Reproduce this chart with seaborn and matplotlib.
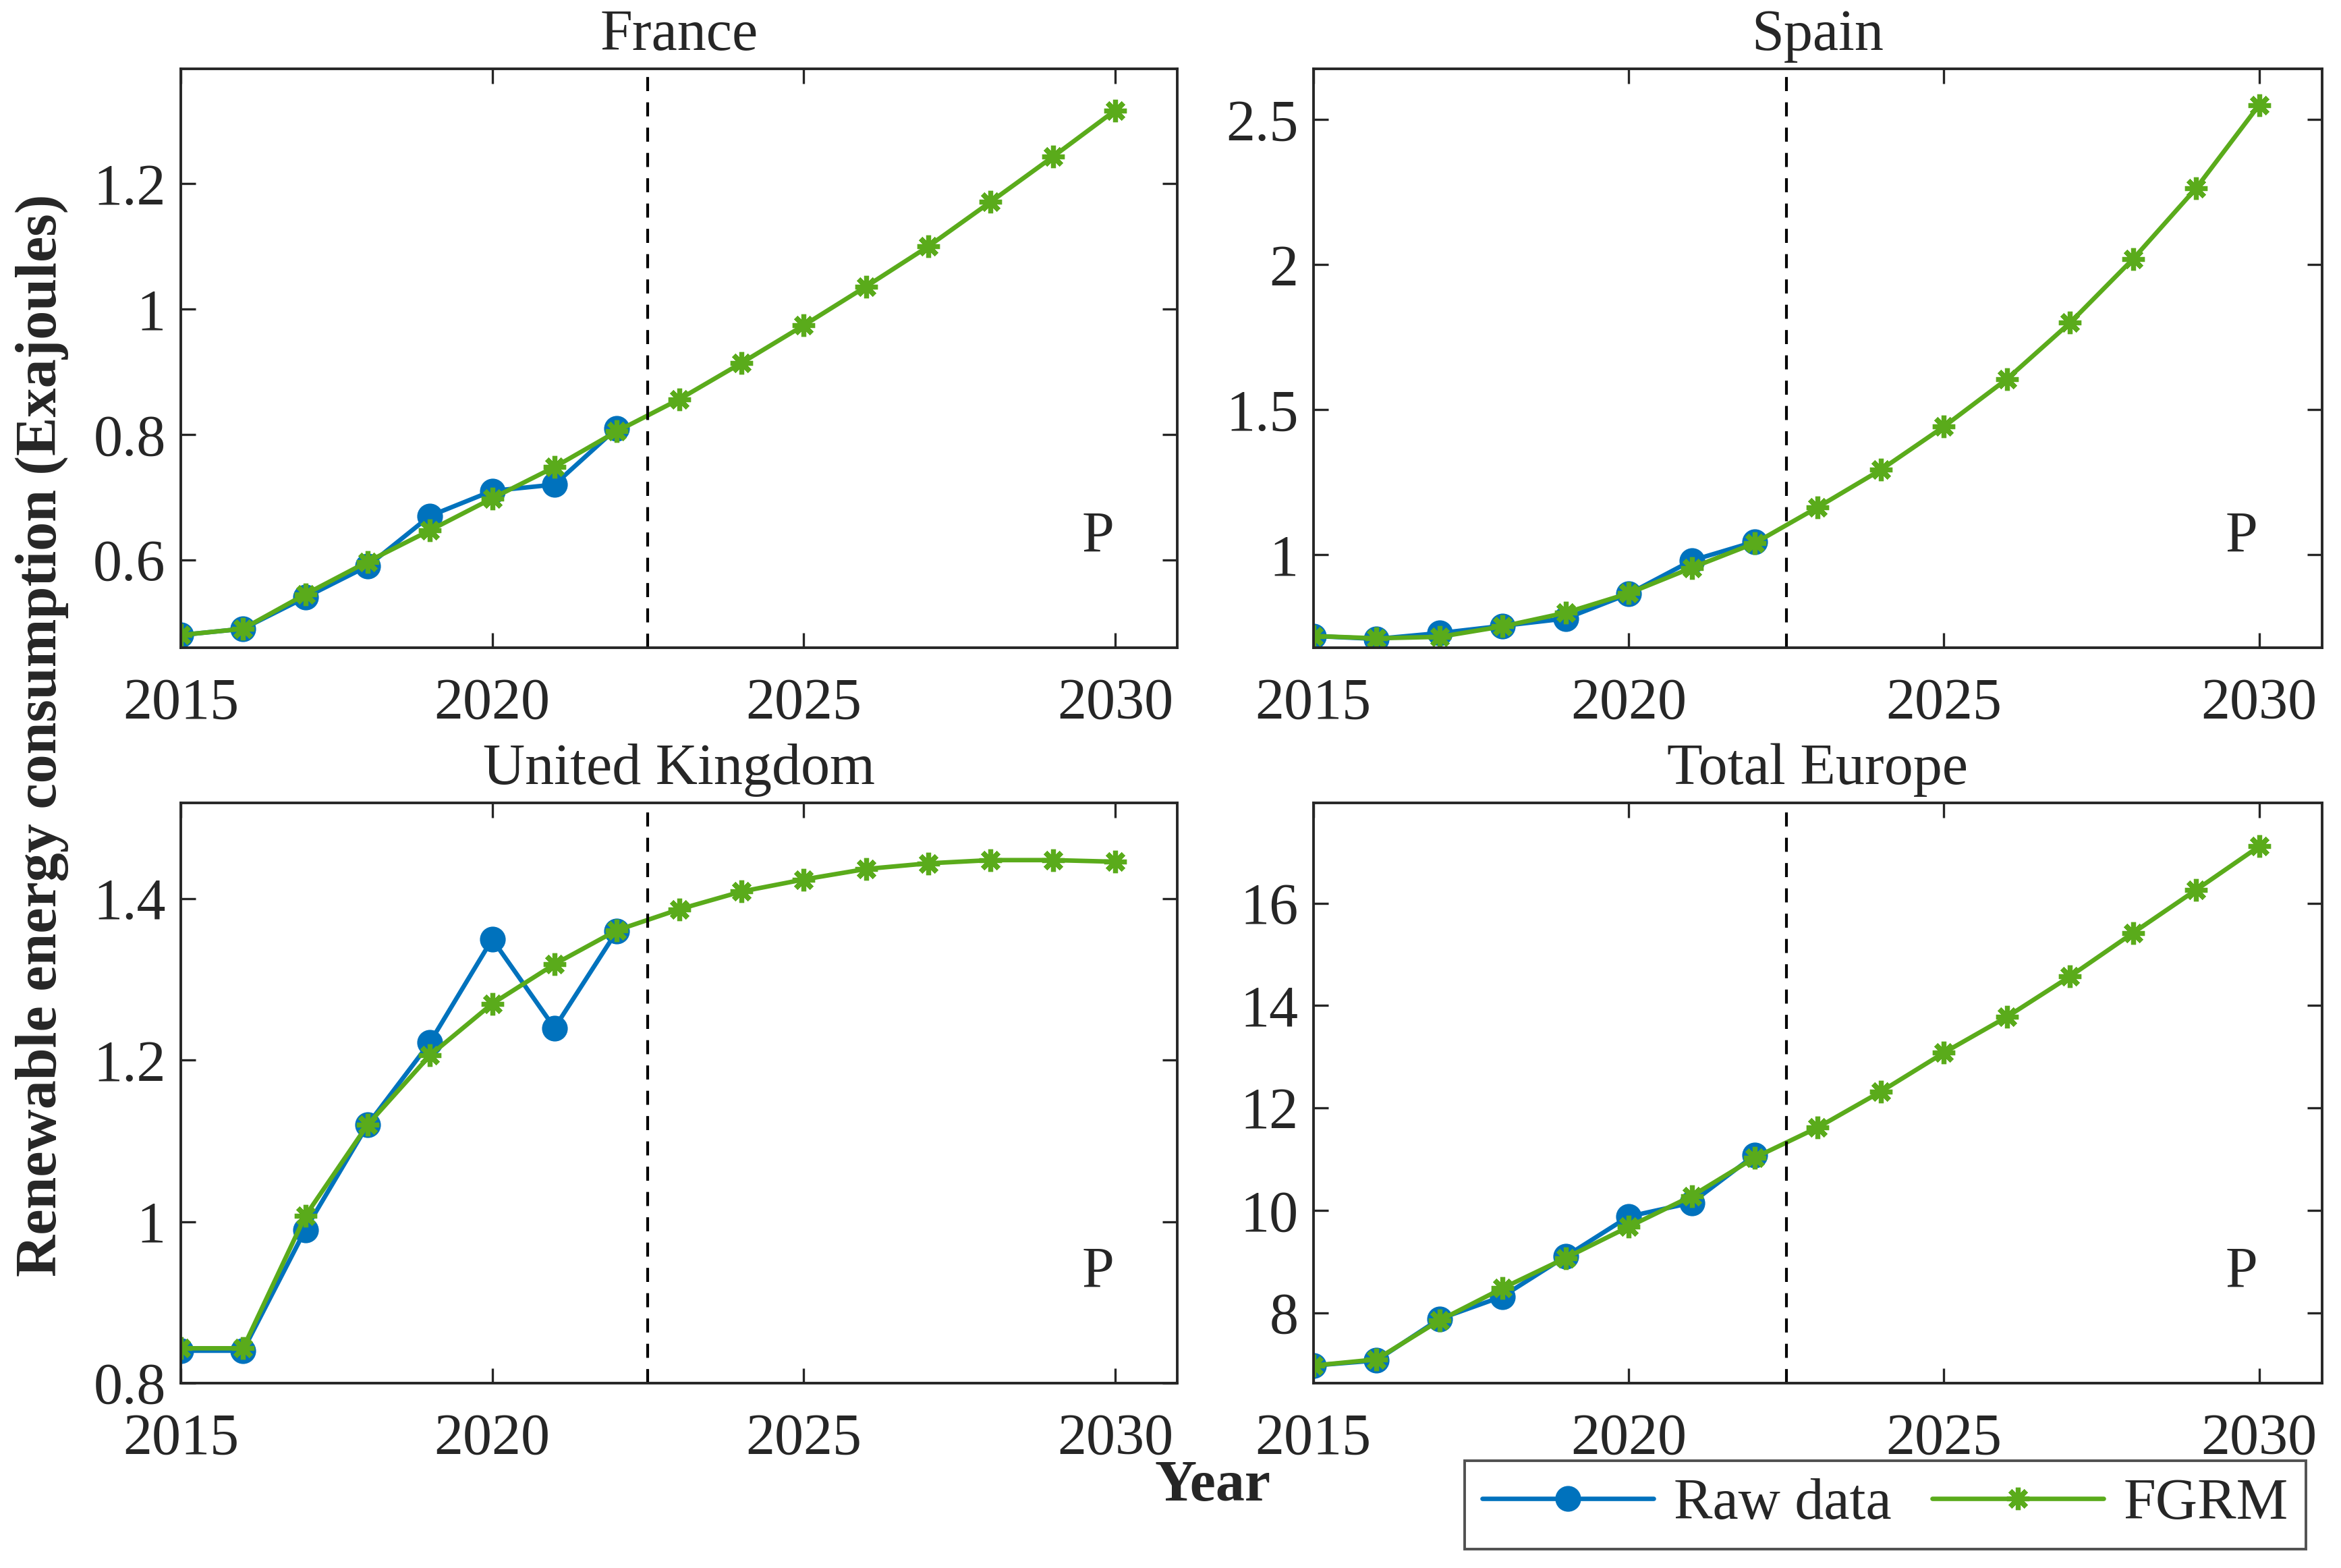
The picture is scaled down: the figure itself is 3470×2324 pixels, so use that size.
import numpy as np
import pandas as pd
import matplotlib
matplotlib.use('Agg')
import matplotlib.pyplot as plt
import seaborn as sns

# years
years_raw = list(range(2015, 2023))
years_fit = list(range(2015, 2031))

# France
france_raw = [0.48, 0.49, 0.54, 0.59, 0.67, 0.71, 0.72, 0.81]
france_fit = [0.48, 0.49, 0.545, 0.597, 0.647, 0.698, 0.748, 0.805,
              0.856, 0.914, 0.974, 1.036, 1.100, 1.171, 1.243, 1.317]

# Spain
spain_raw = [0.72, 0.71, 0.73, 0.755, 0.78, 0.865, 0.98, 1.045]
spain_fit = [0.72, 0.712, 0.717, 0.753, 0.80, 0.867, 0.955, 1.04,
             1.164, 1.293, 1.442, 1.606, 1.80, 2.02, 2.264, 2.551]

# United Kingdom
uk_raw = [0.84, 0.84, 0.99, 1.12, 1.222, 1.35, 1.24, 1.36]
uk_fit = [0.843, 0.843, 1.007, 1.12, 1.206, 1.27, 1.319, 1.361,
          1.387, 1.409, 1.424, 1.437, 1.444, 1.448, 1.448, 1.446]

# Total Europe
europe_raw = [6.97, 7.07, 7.88, 8.32, 9.10, 9.88, 10.15, 11.08]
europe_fit = [6.97, 7.09, 7.85, 8.48, 9.07, 9.68, 10.28, 11.03,
              11.62, 12.32, 13.08, 13.78, 14.57, 15.42, 16.26, 17.11]

titles = ['France', 'Spain', 'United Kingdom', 'Total Europe']
raw_all = [france_raw, spain_raw, uk_raw, europe_raw]
fit_all = [france_fit, spain_fit, uk_fit, europe_fit]
ylims = [(0.46, 1.383), (0.68, 2.675), (0.8, 1.519), (6.63, 17.96)]
yticks = [[0.6, 0.8, 1.0, 1.2], [1, 1.5, 2, 2.5], [0.8, 1.0, 1.2, 1.4], [8, 10, 12, 14, 16]]
ytlabels = [['0.6', '0.8', '1', '1.2'], ['1', '1.5', '2', '2.5'],
            ['0.8', '1', '1.2', '1.4'], ['8', '10', '12', '14', '16']]

blue = '#0072BD'
green = '#5AAB1B'
star = (8, 2, 0)

sns.set_style('ticks')
plt.rcParams['font.family'] = ['Liberation Serif', 'DejaVu Serif']
fs = 31

fig = plt.figure(figsize=(17.35, 11.62), dpi=200)
boxes = [(0.0772, 0.587, 0.4258, 0.369), (0.561, 0.587, 0.431, 0.369),
         (0.0772, 0.118, 0.4258, 0.370), (0.561, 0.118, 0.431, 0.370)]

for i in range(4):
    ax = fig.add_axes(boxes[i])
    d_raw = pd.DataFrame({'Year': years_raw, 'val': raw_all[i]})
    d_fit = pd.DataFrame({'Year': years_fit, 'val': fit_all[i]})
    sns.lineplot(data=d_raw, x='Year', y='val', ax=ax, color=blue, lw=2.4,
                 marker='o', markersize=13, markeredgecolor=blue, label='Raw data')
    sns.lineplot(data=d_fit, x='Year', y='val', ax=ax, color=green, lw=2.4,
                 marker=star, markersize=12, markeredgewidth=2.6,
                 markeredgecolor=green, label='FGRM')
    ax.axvline(2022.5, color='black', ls=(0, (5, 4)), lw=1.5)
    ax.set_xlim(2015, 2031)
    ax.set_ylim(*ylims[i])
    ax.set_xticks([2015, 2020, 2025, 2030])
    ax.set_yticks(yticks[i])
    ax.set_yticklabels(ytlabels[i])
    ax.tick_params(direction='in', top=True, right=True, labelsize=fs,
                   length=8, width=1.2, colors='#262626', labelcolor='#262626')
    ax.tick_params(axis='x', pad=16)
    ax.tick_params(axis='y', pad=8)
    for s in ax.spines.values():
        s.set_linewidth(1.4)
        s.set_color('#262626')
    ax.set_xlabel('')
    ax.set_ylabel('')
    ax.set_title(titles[i], fontsize=fs, pad=10)
    ax.text(0.92, 0.19, 'P', transform=ax.transAxes, fontsize=fs,
            ha='center', va='center')
    handles, labels = ax.get_legend_handles_labels()
    ax.get_legend().remove()

fig.text(0.018, 0.531, 'Renewable energy consumption (Exajoules)', rotation=90,
         fontsize=fs, fontweight='bold', ha='center', va='center')
fig.text(0.518, 0.052, 'Year', fontsize=fs, fontweight='bold', ha='center', va='center')

leg = fig.legend(handles, labels, loc='lower right', bbox_to_anchor=(0.985, 0.012),
                 ncol=2, fontsize=fs, frameon=True, fancybox=False, edgecolor='#262626',
                 handlelength=2.95, columnspacing=0.7, handletextpad=0.35,
                 borderpad=0.3, borderaxespad=0)
leg.get_frame().set_linewidth(1.4)

fig.savefig('out.png', dpi=200)
